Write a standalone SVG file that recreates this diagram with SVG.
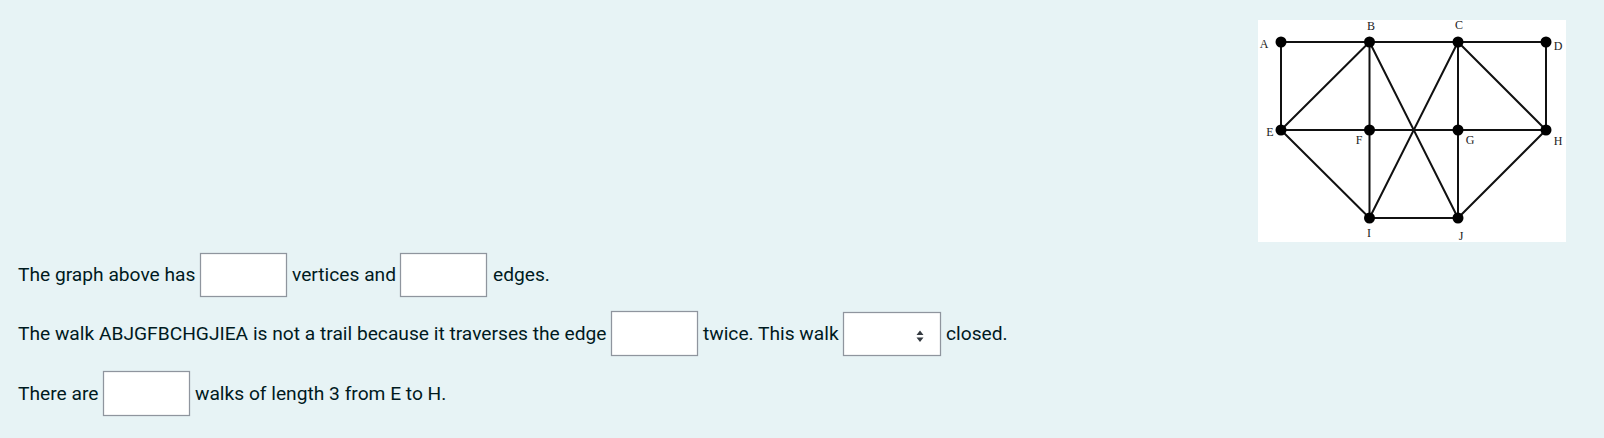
<svg xmlns="http://www.w3.org/2000/svg" width="1604" height="438" viewBox="0 0 1604 438">
  <style>
    .t { font-family: Roboto, "Liberation Sans", sans-serif; font-size: 19.2px; fill: #001a1e; }
    .box { fill: #ffffff; stroke: #8f959e; stroke-width: 1.25; }
    .edge { stroke: #111111; stroke-width: 2; stroke-linecap: round; }
    .node { fill: #000000; }
    .lbl { font-family: "Liberation Serif", "DejaVu Serif", serif; font-size: 12px; fill: #222222; text-anchor: middle; }
  </style>
  <rect x="0" y="0" width="1604" height="438" fill="#e7f3f5"/>

  <g id="graph-figure">
    <rect x="1258" y="20" width="308" height="222" fill="#ffffff"/>
    <g id="connectors">
      <line class="edge" x1="1281" y1="42" x2="1369.5" y2="42"/>
      <line class="edge" x1="1369.5" y1="42" x2="1458" y2="42"/>
      <line class="edge" x1="1458" y1="42" x2="1546" y2="42"/>
      <line class="edge" x1="1281" y1="42" x2="1281" y2="130"/>
      <line class="edge" x1="1546" y1="42" x2="1546" y2="130"/>
      <line class="edge" x1="1369.5" y1="42" x2="1281" y2="130"/>
      <line class="edge" x1="1369.5" y1="42" x2="1369.5" y2="130"/>
      <line class="edge" x1="1369.5" y1="42" x2="1458" y2="218"/>
      <line class="edge" x1="1458" y1="42" x2="1369.5" y2="218"/>
      <line class="edge" x1="1458" y1="42" x2="1458" y2="130"/>
      <line class="edge" x1="1458" y1="42" x2="1546" y2="130"/>
      <line class="edge" x1="1281" y1="130" x2="1369.5" y2="130"/>
      <line class="edge" x1="1369.5" y1="130" x2="1458" y2="130"/>
      <line class="edge" x1="1458" y1="130" x2="1546" y2="130"/>
      <line class="edge" x1="1281" y1="130" x2="1369.5" y2="218"/>
      <line class="edge" x1="1369.5" y1="130" x2="1369.5" y2="218"/>
      <line class="edge" x1="1458" y1="130" x2="1458" y2="218"/>
      <line class="edge" x1="1546" y1="130" x2="1458" y2="218"/>
      <line class="edge" x1="1369.5" y1="218" x2="1458" y2="218"/>
    </g>
    <g id="node-A"><circle class="node" cx="1281" cy="42" r="5.5"/><text class="lbl" x="1264" y="48">A</text></g>
    <g id="node-B"><circle class="node" cx="1369.5" cy="42" r="5.5"/><text class="lbl" x="1371" y="30">B</text></g>
    <g id="node-C"><circle class="node" cx="1458" cy="42" r="5.5"/><text class="lbl" x="1459" y="29">C</text></g>
    <g id="node-D"><circle class="node" cx="1546" cy="42" r="5.5"/><text class="lbl" x="1558" y="50">D</text></g>
    <g id="node-E"><circle class="node" cx="1281" cy="130" r="5.5"/><text class="lbl" x="1270" y="136">E</text></g>
    <g id="node-F"><circle class="node" cx="1369.5" cy="130" r="5.5"/><text class="lbl" x="1359" y="144">F</text></g>
    <g id="node-G"><circle class="node" cx="1458" cy="130" r="5.5"/><text class="lbl" x="1470" y="144">G</text></g>
    <g id="node-H"><circle class="node" cx="1546" cy="130" r="5.5"/><text class="lbl" x="1558" y="145">H</text></g>
    <g id="node-I"><circle class="node" cx="1369.5" cy="218" r="5.5"/><text class="lbl" x="1369" y="237">I</text></g>
    <g id="node-J"><circle class="node" cx="1458" cy="218" r="5.5"/><text class="lbl" x="1461" y="240">J</text></g>
  </g>

  <g id="question-1">
    <text class="t" x="18" y="281">The graph above has</text>
    <rect class="box" x="200.5" y="253.5" width="86" height="43"/>
    <text class="t" x="292" y="281">vertices and</text>
    <rect class="box" x="400.5" y="253.5" width="86" height="43"/>
    <text class="t" x="493" y="281">edges.</text>
  </g>

  <g id="question-2">
    <text class="t" x="18" y="340">The walk ABJGFBCHGJIEA is not a trail because it traverses the edge</text>
    <rect class="box" x="611.5" y="311.5" width="86" height="44"/>
    <text class="t" x="703" y="340">twice. This walk</text>
    <rect class="box" x="843.5" y="312.5" width="97" height="43"/>
    <path d="M916.5 335 L920 330.5 L923.5 335 Z M916.5 337.5 L920 342 L923.5 337.5 Z" fill="#343a40"/>
    <text class="t" x="946" y="340">closed.</text>
  </g>

  <g id="question-3">
    <text class="t" x="18" y="400">There are</text>
    <rect class="box" x="103.5" y="371.5" width="86" height="44"/>
    <text class="t" x="195" y="400">walks of length 3 from E to H.</text>
  </g>
</svg>
